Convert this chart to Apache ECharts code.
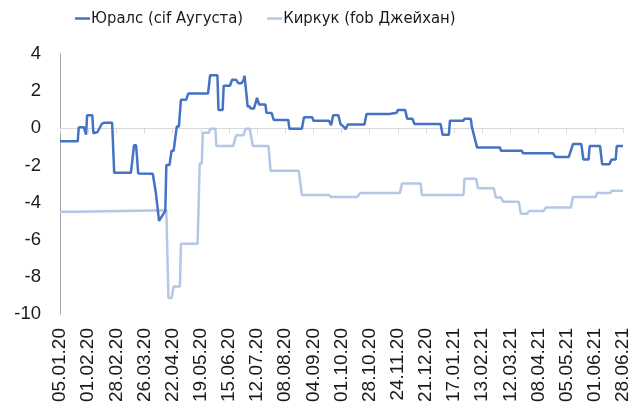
<!DOCTYPE html>
<html>
<head>
<meta charset="utf-8">
<script src="https://cdn.jsdelivr.net/npm/echarts@6/dist/echarts.min.js"></script>
<style>
  html, body { margin: 0; padding: 0; background: #fff; }
  #chart { width: 632px; height: 408px; }
</style>
</head>
<body>
<div id="chart"></div>
<script>
  // спред к Брент, долл./барр.
  const seriesNames = ['Юралс (cif Аугуста)', 'Киркук (fob Джейхан)']
  const startDate = '05.01.20'
  const dayCount = 541
  const yTicks = { min: -10, max: 4, step: 2 }

  const uralsDates = [
    '05.01.20', '22.01.20', '23.01.20', '28.01.20', '30.01.20', '31.01.20', '05.02.20', '06.02.20',
    '10.02.20', '11.02.20', '14.02.20', '16.02.20', '24.02.20', '26.02.20', '13.03.20', '16.03.20',
    '18.03.20', '20.03.20', '03.04.20', '06.04.20', '07.04.20', '09.04.20', '15.04.20', '16.04.20',
    '19.04.20', '21.04.20', '23.04.20', '26.04.20', '28.04.20', '30.04.20', '05.05.20', '07.05.20',
    '26.05.20', '28.05.20', '04.06.20', '05.06.20', '09.06.20', '10.06.20', '16.06.20', '18.06.20',
    '22.06.20', '24.06.20', '27.06.20', '29.06.20', '30.06.20', '03.07.20', '05.07.20', '06.07.20',
    '09.07.20', '12.07.20', '14.07.20', '20.07.20', '21.07.20', '26.07.20', '28.07.20', '11.08.20',
    '12.08.20', '24.08.20', '26.08.20', '03.09.20', '04.09.20', '19.09.20', '21.09.20', '23.09.20',
    '28.09.20', '30.09.20', '03.10.20', '05.10.20', '07.10.20', '23.10.20', '25.10.20', '16.11.20',
    '17.11.20', '23.11.20', '24.11.20', '01.12.20', '03.12.20', '08.12.20', '10.12.20', '04.01.21',
    '06.01.21', '12.01.21', '13.01.21', '26.01.21', '27.01.21', '02.02.21', '03.02.21', '08.02.21',
    '02.03.21', '03.03.21', '23.03.21', '24.03.21', '22.04.21', '24.04.21', '07.05.21', '11.05.21',
    '19.05.21', '21.05.21', '26.05.21', '27.05.21', '06.06.21', '08.06.21', '15.06.21', '17.06.21',
    '21.06.21', '22.06.21', '28.06.21'
  ]
  const uralsValues = [
    -0.70, -0.70, 0.05, 0.05, -0.35, 0.70, 0.70, -0.27,
    -0.20, -0.10, 0.23, 0.30, 0.30, -2.40, -2.40, -0.92,
    -0.92, -2.43, -2.45, -3.50, -3.50, -4.99, -4.45, -1.98,
    -1.98, -1.21, -1.21, 0.09, 0.09, 1.53, 1.53, 1.87,
    1.87, 2.86, 2.86, 0.99, 0.99, 2.29, 2.29, 2.61,
    2.61, 2.43, 2.43, 2.57, 2.83, 1.17, 1.17, 1.06,
    1.06, 1.64, 1.28, 1.28, 0.84, 0.82, 0.45, 0.45,
    -0.02, -0.02, 0.59, 0.59, 0.41, 0.41, 0.16, 0.70,
    0.70, 0.23, 0.09, -0.05, 0.20, 0.20, 0.77, 0.77,
    0.84, 0.84, 0.99, 0.99, 0.52, 0.52, 0.23, 0.23,
    -0.35, -0.35, 0.41, 0.41, 0.52, 0.52, 0.09, -1.03,
    -1.03, -1.21, -1.21, -1.35, -1.35, -1.54, -1.54, -0.85,
    -0.85, -1.68, -1.68, -0.96, -0.96, -1.93, -1.93, -1.68,
    -1.68, -0.96, -0.96
  ]

  const kirkukDates = [
    '05.01.20', '21.01.20', '22.01.20', '16.04.20', '18.04.20', '21.04.20', '23.04.20', '29.04.20',
    '30.04.20', '16.05.20', '18.05.20', '20.05.20', '21.05.20', '27.05.20', '28.05.20', '02.06.20',
    '03.06.20', '19.06.20', '22.06.20', '29.06.20', '01.07.20', '05.07.20', '08.07.20', '23.07.20',
    '25.07.20', '21.08.20', '24.08.20', '19.09.20', '21.09.20', '16.10.20', '19.10.20', '26.11.20',
    '28.11.20', '16.12.20', '17.12.20', '26.01.21', '27.01.21', '07.02.21', '09.02.21', '24.02.21',
    '26.02.21', '03.03.21', '05.03.21', '20.03.21', '22.03.21', '28.03.21', '30.03.21', '13.04.21',
    '15.04.21', '09.05.21', '11.05.21', '02.06.21', '03.06.21', '16.06.21', '17.06.21', '28.06.21'
  ]
  const kirkukValues = [
    -4.49, -4.49, -4.40, -4.42, -9.14, -9.14, -8.52, -8.52,
    -6.22, -6.22, -1.89, -1.89, -0.24, -0.24, -0.02, -0.02,
    -0.96, -0.96, -0.38, -0.38, -0.02, -0.02, -0.96, -0.96,
    -2.29, -2.29, -3.59, -3.59, -3.70, -3.70, -3.48, -3.48,
    -2.97, -2.97, -3.59, -3.59, -2.72, -2.72, -3.23, -3.23,
    -3.73, -3.73, -3.95, -3.95, -4.60, -4.60, -4.45, -4.45,
    -4.27, -4.27, -3.70, -3.70, -3.48, -3.48, -3.37, -3.37
  ]

  function pad(n) { return n < 10 ? '0' + n : '' + n }

  // ежедневные категории оси X (дд.мм.гг)
  function buildDays(start, count) {
    let p = start.split('.')
    let t = Date.UTC(2000 + Number(p[2]), Number(p[1]) - 1, Number(p[0]))
    let days = []
    for (let i = 0; i < count; i++) {
      let d = new Date(t + i * 86400000)
      days.push(pad(d.getUTCDate()) + '.' + pad(d.getUTCMonth() + 1) + '.' + pad(d.getUTCFullYear() % 100))
    }
    return days
  }

  function pairs(dates, values) {
    return dates.map((d, i) => [d, values[i]])
  }

  const xAxisData = buildDays(startDate, dayCount)
  const textColor = '#1a1a1a'

  let chart = echarts.init(document.getElementById('chart'), null, { renderer: 'canvas' })
  chart.setOption({
    animation: false,
    legend: {
      left: 75,
      top: 10,
      padding: 0,
      itemGap: 24,
      itemWidth: 15,
      itemHeight: 2.5,
      icon: 'rect',
      textStyle: {
        fontFamily: 'DejaVu Sans Condensed, DejaVu Sans',
        fontSize: 16.5,
        color: textColor,
        padding: [0, 0, 0, -4]
      },
      data: seriesNames
    },
    grid: {
      left: 60,
      right: 9,
      top: 54,
      bottom: 94,
      outerBoundsMode: 'none'
    },
    xAxis: {
      type: 'category',
      boundaryGap: false,
      data: xAxisData,
      axisLine: { lineStyle: { color: '#d9d9d9', width: 1 } },
      axisTick: { interval: 26, length: 5, lineStyle: { color: '#d9d9d9' } },
      axisLabel: {
        interval: 26,
        rotate: 90,
        margin: 14,
        fontFamily: 'Liberation Sans, Arial',
        fontSize: 19,
        color: textColor
      },
      splitLine: { show: false }
    },
    yAxis: {
      type: 'value',
      min: yTicks.min,
      max: yTicks.max,
      interval: yTicks.step,
      axisLine: { show: true, lineStyle: { color: '#a6a6a6', width: 1 } },
      axisTick: { show: false },
      axisLabel: {
        margin: 19,
        fontFamily: 'Liberation Sans, Arial',
        fontSize: 18.5,
        color: textColor
      },
      splitLine: { show: false }
    },
    series: [
      {
        name: seriesNames[0],
        type: 'line',
        symbol: 'none',
        z: 3,
        itemStyle: { color: '#4472c4' },
        lineStyle: { color: '#4472c4', width: 2.5 },
        data: pairs(uralsDates, uralsValues)
      },
      {
        name: seriesNames[1],
        type: 'line',
        symbol: 'none',
        z: 2,
        itemStyle: { color: '#b4c7e7' },
        lineStyle: { color: '#b4c7e7', width: 2.5 },
        data: pairs(kirkukDates, kirkukValues)
      }
    ]
  })
</script>
</body>
</html>
